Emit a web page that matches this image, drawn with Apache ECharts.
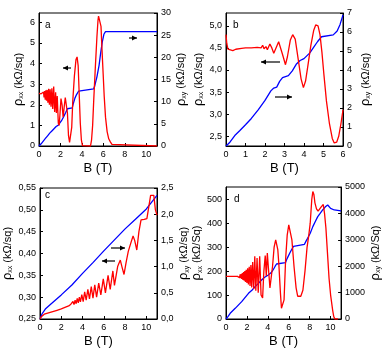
<!DOCTYPE html>
<html>
<head>
<meta charset="utf-8">
<script src="https://cdn.jsdelivr.net/npm/echarts@6/dist/echarts.min.js"></script>
<style>
html, body { margin: 0; padding: 0; background: #fff; }
#main { width: 383px; height: 354px; }
</style>
</head>
<body>
<div id="main"></div>
<script>
// panel a: [B (T), value]
var aRxx = [[0,2.55],[0.2,2.53],[0.35,2.5],[0.42,2.62],[0.47,2.35],[0.53,2.66],[0.58,2.25],[0.64,2.7],[0.7,2.2],[0.76,2.72],[0.83,2.1],[0.9,2.78],[0.97,2.0],[1.04,2.75],[1.12,1.9],[1.2,2.8],[1.28,1.8],[1.37,2.88],[1.46,1.65],[1.55,2.6],[1.62,1.6],[1.7,2.42],[1.8,1.1],[1.88,1.0],[1.95,1.5],[2.05,2.3],[2.15,2.0],[2.25,1.4],[2.35,1.9],[2.45,2.35],[2.55,2.38],[2.65,1.6],[2.75,0.5],[2.85,0.18],[2.95,0.2],[3.05,0.9],[3.15,2.2],[3.3,3.4],[3.45,4.2],[3.55,4.32],[3.65,3.9],[3.75,2.5],[3.85,1.1],[3.95,0.3],[4.05,0.02],[4.2,0],[4.8,0],[4.9,0.3],[5.0,1.0],[5.1,2.2],[5.25,3.8],[5.4,5.3],[5.5,6.1],[5.55,6.3],[5.7,6.3],[5.78,5.8],[5.88,4.6],[5.98,3.5],[6.08,2.4],[6.2,1.4],[6.35,0.7],[6.5,0.35],[6.65,0.2],[6.8,0.08],[6.95,0],[11,0]];
var aRxy = [[0,0],[0.2,0.5],[0.4,1.1],[0.6,1.7],[0.8,2.3],[1.0,2.9],[1.2,3.4],[1.4,3.9],[1.6,4.4],[1.8,4.7],[1.95,4.9],[2.1,5.7],[2.3,6.6],[2.5,7.6],[2.65,8.4],[3.1,8.6],[3.2,9.6],[3.35,10.8],[3.5,11.6],[3.7,12.4],[3.85,12.8],[5.1,12.9],[5.2,13.6],[5.4,15.6],[5.6,18.2],[5.75,21],[5.9,23.5],[6.05,25.2],[6.2,25.8],[11,25.8]];

// panel b
var bRxx = [[0,4.8],[0.04,4.6],[0.1,4.47],[0.2,4.45],[0.35,4.44],[0.5,4.47],[0.8,4.49],[1.0,4.5],[1.3,4.5],[1.6,4.51],[1.8,4.5],[1.88,4.56],[1.95,4.48],[2.05,4.53],[2.12,4.46],[2.25,4.59],[2.35,4.5],[2.45,4.38],[2.55,4.42],[2.7,4.64],[2.8,4.6],[2.9,4.35],[3.05,4.12],[3.15,4.3],[3.3,4.68],[3.42,4.8],[3.55,4.7],[3.7,4.25],[3.85,3.8],[3.97,3.6],[4.08,3.75],[4.2,4.1],[4.35,4.55],[4.5,4.9],[4.6,5.02],[4.72,5.0],[4.82,4.8],[4.92,4.4],[5.02,3.9],[5.15,3.3],[5.3,2.8],[5.45,2.45],[5.55,2.35],[5.68,2.37],[5.78,2.5],[5.9,2.8],[6.0,3.1]];
var bRxy = [[0,0],[0.2,0.2],[0.45,0.55],[0.7,0.8],[1.0,1.12],[1.3,1.45],[1.65,1.9],[2.0,2.4],[2.3,2.9],[2.45,3.05],[2.6,3.1],[2.75,3.4],[2.9,3.6],[3.2,3.7],[3.4,3.95],[3.6,4.3],[3.8,4.5],[4.0,4.6],[4.3,4.9],[4.5,5.2],[4.7,5.5],[4.9,5.75],[5.0,5.8],[5.5,5.85],[5.7,6.05],[5.85,6.4],[6.0,6.9]];

// panel c
var cRxx = [[0,0.25],[0.15,0.256],[0.4,0.261],[0.8,0.264],[1.2,0.267],[1.6,0.27],[2.0,0.273],[2.4,0.277],[2.7,0.28],[2.9,0.284],[3.0,0.281],[3.1,0.29],[3.2,0.283],[3.3,0.293],[3.4,0.285],[3.5,0.297],[3.6,0.287],[3.7,0.30],[3.8,0.289],[3.93,0.306],[4.06,0.29],[4.2,0.312],[4.34,0.293],[4.5,0.318],[4.65,0.296],[4.82,0.324],[4.98,0.298],[5.15,0.328],[5.32,0.3],[5.52,0.332],[5.72,0.305],[5.95,0.342],[6.15,0.31],[6.4,0.35],[6.6,0.318],[6.85,0.36],[7.0,0.327],[7.3,0.37],[7.55,0.385],[7.7,0.37],[7.9,0.352],[8.1,0.38],[8.3,0.405],[8.55,0.425],[8.75,0.44],[8.9,0.43],[9.1,0.408],[9.3,0.45],[9.5,0.477],[9.8,0.478],[10.05,0.48],[10.25,0.51],[10.4,0.533],[10.7,0.533],[10.85,0.5],[11,0.488]];
var cRxy = [[0,0],[0.2,0.1],[0.5,0.19],[1,0.28],[2,0.46],[3,0.65],[4,0.87],[5,1.08],[6,1.3],[7,1.51],[8,1.72],[9,1.91],[10,2.1],[10.5,2.23],[11,2.36]];

// panel d
var dRxx = [[0,178],[0.6,178],[1.1,178],[1.2,174],[1.25,183],[1.3,172],[1.35,186],[1.4,170],[1.45,188],[1.5,167],[1.56,192],[1.62,163],[1.68,196],[1.74,160],[1.8,200],[1.86,155],[1.93,205],[2.0,150],[2.07,212],[2.14,144],[2.22,218],[2.3,138],[2.38,225],[2.46,132],[2.55,238],[2.65,125],[2.75,262],[2.85,118],[2.97,255],[3.08,110],[3.22,262],[3.35,100],[3.5,88],[3.62,200],[3.75,265],[3.85,180],[3.95,275],[4.05,215],[4.2,130],[4.32,136],[4.45,220],[4.6,300],[4.75,330],[4.83,338],[4.95,290],[5.05,230],[5.2,110],[5.3,45],[5.45,40],[5.55,80],[5.7,250],[5.85,350],[6.0,393],[6.15,390],[6.3,330],[6.5,220],[6.7,130],[6.85,95],[7.0,90],[7.15,95],[7.35,120],[7.55,200],[7.75,300],[7.9,345],[8.05,400],[8.2,500],[8.3,532],[8.4,520],[8.5,485],[8.65,460],[8.8,450],[8.95,458],[9.1,468],[9.3,478],[9.42,440],[9.55,380],[9.7,275],[9.85,170],[10.0,100],[10.2,35],[10.3,10],[10.4,0],[10.7,0]];
var dRxy = [[0,0],[0.2,100],[0.4,215],[0.88,404],[1.5,657],[2.15,972],[2.5,1100],[2.78,1225],[3.1,1350],[3.4,1478],[3.7,1580],[4.04,1667],[4.3,1750],[4.5,1857],[4.7,2000],[4.83,2084],[5.0,2134],[5.68,2134],[5.8,2250],[5.93,2362],[6.1,2500],[6.25,2614],[6.45,2750],[6.62,2804],[7.5,2830],[7.65,2950],[7.8,3056],[8.05,3250],[8.3,3499],[8.55,3700],[8.77,3877],[9.0,4000],[9.24,4130],[9.5,4250],[9.72,4319],[9.85,4310],[10.0,4193],[10.35,4130],[11,4092]];

// tick labels
var aLeftTicks = [0,1,2,3,4,5,6];
var aRightTicks = [0,5,10,15,20,25,30];
var bLeftTicks = [2.5,3.0,3.5,4.0,4.5,5.0];
var bRightTicks = [0,1,2,3,4,5,6,7];
var cLeftTicks = [0.25,0.30,0.35,0.40,0.45,0.50,0.55];
var cRightTicks = [0,0.5,1.0,1.5,2.0,2.5];
var dLeftTicks = [0,100,200,300,400,500];
var dRightTicks = [0,1000,2000,3000,4000,5000];
var panelLabels = ['a','b','c','d'];

var myChart = echarts.init(document.getElementById('main'));
var font = 'Arial, "Liberation Sans", sans-serif';

function comma(d) {
    return function (v) { return v.toFixed(d).replace('.', ','); };
}
function plain(v) { return String(v); }
function yName(sub, unit) {
    return '{r|ρ}{s|' + sub + '}{u| (kΩ/' + unit + ')}';
}
var nameStyle = {
    fontFamily: font,
    color: '#000',
    rich: {
        r: { fontSize: 13, fontFamily: font, color: '#000' },
        s: { fontSize: 7, fontFamily: font, color: '#000', verticalAlign: 'bottom', padding: [5, 0, 0, 0] },
        u: { fontSize: 11, fontFamily: font, color: '#000' }
    }
};

function xAx(grid, max, interval, showMax) {
    return {
        type: 'value', gridIndex: grid, min: 0, max: max, interval: interval,
        name: 'B (T)', nameLocation: 'middle', nameGap: 16,
        nameTextStyle: { fontFamily: font, fontSize: 13, color: '#000' },
        axisLine: { lineStyle: { color: '#000', width: 1 } },
        axisTick: { inside: true, length: 3, lineStyle: { color: '#000' } },
        axisLabel: { fontFamily: font, fontSize: 9, color: '#000', margin: 4, showMaxLabel: showMax },
        splitLine: { show: false }
    };
}
function yAx(grid, pos, min, max, ticks, fmt, name, gap) {
    return {
        type: 'value', gridIndex: grid, position: pos, min: min, max: max,
        name: name, nameLocation: 'middle', nameGap: gap, nameTextStyle: nameStyle,
        axisLine: { show: true, lineStyle: { color: '#000', width: 1 } },
        axisTick: { inside: true, length: 3, customValues: ticks, lineStyle: { color: '#000' } },
        axisLabel: { fontFamily: font, fontSize: 9, color: '#000', margin: 4, customValues: ticks, formatter: fmt },
        splitLine: { show: false }
    };
}
function line(data, x, y, color) {
    return {
        type: 'line', data: data, xAxisIndex: x, yAxisIndex: y,
        showSymbol: false, symbol: 'none', animation: false,
        lineStyle: { color: color, width: 1.3 }
    };
}
function arrow(x1, x2, y, dir) {
    var tip = dir > 0 ? x2 : x1;
    return {
        type: 'group', silent: true,
        children: [
            { type: 'line', shape: { x1: x1, y1: y, x2: x2, y2: y }, style: { stroke: '#000', lineWidth: 1.2 } },
            { type: 'polygon', shape: { points: [[tip, y], [tip - dir * 5, y - 2.5], [tip - dir * 5, y + 2.5]] }, style: { fill: '#000' } }
        ]
    };
}

var grids = [
    { left: 39, top: 13, width: 118, height: 133 },
    { left: 226, top: 13, width: 117, height: 133 },
    { left: 39, top: 188, width: 118, height: 131 },
    { left: 226, top: 187, width: 116, height: 132 }
];
grids.forEach(function (g) { g.show = true; g.borderColor = '#000'; g.borderWidth = 1; g.backgroundColor = 'transparent'; });

var labelPos = [[45, 20], [233, 20], [45, 190], [234, 194]];

var option = {
    backgroundColor: '#fff',
    animation: false,
    grid: grids,
    xAxis: [xAx(0, 11, 2, false), xAx(1, 6, 1, true), xAx(2, 11, 2, false), xAx(3, 11, 2, false)],
    yAxis: [
        yAx(0, 'left', 0, 6.45, aLeftTicks, plain, yName('xx', 'sq'), 14),
        yAx(0, 'right', 0, 30, aRightTicks, plain, yName('xy', 'sq'), 16),
        yAx(1, 'left', 2.28, 5.29, bLeftTicks, comma(1), yName('xx', 'sq'), 21),
        yAx(1, 'right', 0, 7, bRightTicks, plain, yName('xy', 'sq'), 16),
        yAx(2, 'left', 0.25, 0.55, cLeftTicks, comma(2), yName('xx', 'sq'), 26),
        yAx(2, 'right', 0, 2.5, cRightTicks, comma(1), yName('xy', 'sq'), 16),
        yAx(3, 'left', 0, 551, dLeftTicks, plain, yName('xx', 'Sq'), 22),
        yAx(3, 'right', 0, 5000, dRightTicks, plain, yName('xy', 'Sq'), 27)
    ],
    series: [
        line(aRxy, 0, 1, '#0000ff'), line(aRxx, 0, 0, '#ff0000'),
        line(bRxy, 1, 3, '#0000ff'), line(bRxx, 1, 2, '#ff0000'),
        line(cRxy, 2, 5, '#0000ff'), line(cRxx, 2, 4, '#ff0000'),
        line(dRxy, 3, 7, '#0000ff'), line(dRxx, 3, 6, '#ff0000')
    ],
    graphic: panelLabels.map(function (t, i) {
        return { type: 'text', left: labelPos[i][0], top: labelPos[i][1], style: { text: t, fontFamily: font, fontSize: 10, fill: '#000' } };
    }).concat([
        arrow(63, 71, 68, -1),
        arrow(129, 137, 38, 1),
        arrow(261, 280, 62, -1),
        arrow(275, 292, 97, 1),
        arrow(111, 125, 248, 1),
        arrow(102, 115, 261, -1)
    ])
};
myChart.setOption(option, true);
</script>
</body>
</html>
